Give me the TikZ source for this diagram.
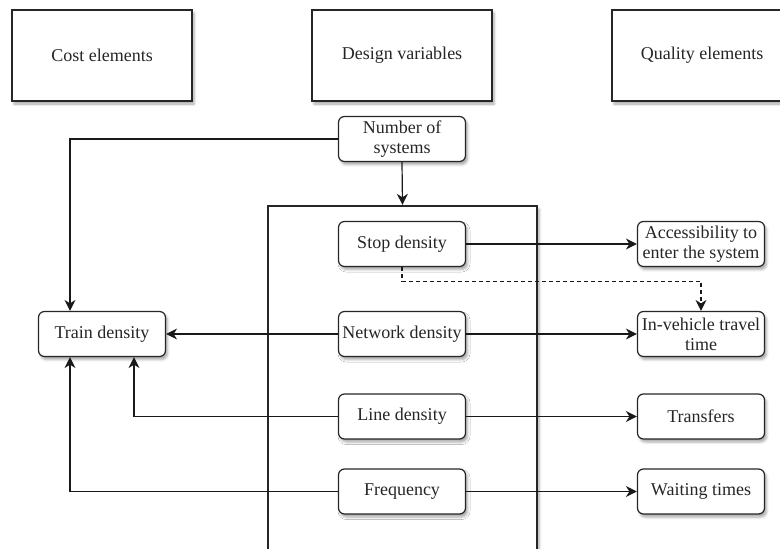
\documentclass[tikz,border=0pt]{standalone}
\usepackage{fontspec}
\setmainfont{Liberation Serif}
\usetikzlibrary{arrows.meta,shadows.blur}
\begin{document}
\begin{tikzpicture}[x=1pt,y=-1pt,
  every node/.style={font=\fontsize{18}{20}\selectfont, text=black!85},
  softshadow/.style={blur shadow={shadow xshift=2pt, shadow yshift=-3pt,
      shadow blur radius=2.5pt, shadow opacity=35}},
  header/.style={draw=black!85, line width=1.3pt, fill=white, softshadow,
      minimum width=180pt, minimum height=91pt, inner sep=0pt},
  varbox/.style={draw=black!85, line width=1.2pt, fill=white, softshadow,
      rounded corners=6pt, minimum width=127pt, minimum height=45pt,
      inner sep=1pt, align=center},
  container/.style={draw=black!85, line width=2.4pt, fill=white, softshadow,
      minimum width=269pt, minimum height=360pt, inner sep=0pt},
  link/.style={draw=black!90, line width=1.2pt,
      -{Stealth[length=11pt,width=11pt,inset=3.5pt]}},
  hint/.style={link, dash pattern=on 4pt off 3pt},
]
\useasboundingbox (0,0) rectangle (780,549);

% column headers
\node[header] (cost)    at (102,55.5) {Cost elements};
\node[header] (design)  at (402,55.5) {Design variables};
\node[header] (quality) at (702,55.5) {Quality elements};

% frame holding the design variables
\node[container] (group) at (402.5,386) {};

% design variables
\node[varbox] (nsys)     at (402,139)   {Number of\\systems};
\node[varbox] (stop)     at (402,244)   {Stop density};
\node[varbox] (network)  at (402,334)   {Network density};
\node[varbox] (linedens) at (402,416.5) {Line density};
\node[varbox] (freq)     at (402,491.5) {Frequency};

% cost side
\node[varbox] (train) at (102,334) {Train density};

% quality side
\node[varbox] (access)    at (701,244)   {Accessibility to\\enter the system};
\node[varbox] (invehicle) at (701,334)   {In-vehicle travel\\time};
\node[varbox] (transfers) at (701,416.5) {Transfers};
\node[varbox] (waiting)   at (701,491.5) {Waiting times};

% connectors
\draw[link] (nsys.west) -| ([xshift=-32pt]train.north);
\draw[link] (nsys.south) -- (group.north);
\draw[link] (stop.east) -- (access.west);
\draw[hint] (stop.south) -- ++(0,14) -| (invehicle.north);
\draw[link] (network.west) -- (train.east);
\draw[link] (network.east) -- (invehicle.west);
\draw[link] (linedens.west) -| ([xshift=32pt]train.south);
\draw[link] (linedens.east) -- (transfers.west);
\draw[link] (freq.west) -| ([xshift=-32pt]train.south);
\draw[link] (freq.east) -- (waiting.west);
\end{tikzpicture}
\end{document}
